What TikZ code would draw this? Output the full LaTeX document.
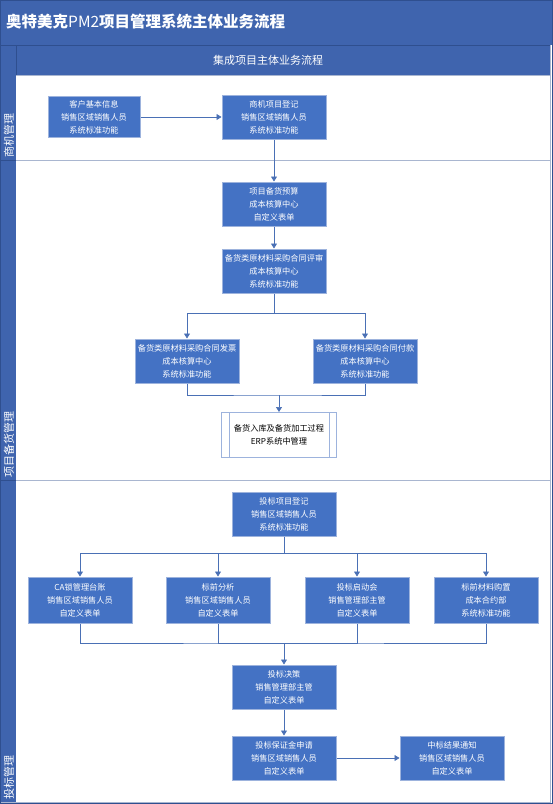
\documentclass[tikz,border=0pt]{standalone}
\usepackage{fontspec}
\setmainfont{Noto Sans CJK SC}
\usetikzlibrary{arrows.meta}
\definecolor{barblue}{HTML}{3F64AE}
\definecolor{barline}{HTML}{2F4F8F}
\definecolor{boxblue}{HTML}{4472C4}
\definecolor{boxedge}{HTML}{9DB3DD}
\definecolor{flowline}{HTML}{4A70B5}
\definecolor{laneline}{HTML}{A9B6D0}

\begin{document}
\begin{tikzpicture}[x=1pt,y=-1pt,
    task/.style={draw=boxedge,line width=1pt,fill=boxblue,text=white,
        minimum width=104pt,minimum height=44pt,inner sep=0pt,align=center,
        font=\fontsize{8.2}{13}\selectfont},
    erpbox/.style={task,fill=white,text=black,minimum width=115pt,minimum height=45pt},
    lanelabel/.style={rotate=90,anchor=west,text=white,inner sep=0pt,
        font=\fontsize{11}{11}\selectfont},
    flow/.style={draw=flowline,line width=0.7pt},
    arr/.style={flow,-{Triangle[width=6pt,length=5pt]}}]
    \useasboundingbox (0,0) rectangle (553,804);

    \fill[barblue] (0,0) rectangle (553,45);
    \fill[barblue] (0,45) rectangle (16,803);
    \fill[barblue] (16,45) rectangle (550,75);
    \draw[barline] (0,45) -- (550,45);
    \draw[barline] (16,45) -- (16,75);
    \draw[barline] (0,160) -- (16,160);
    \draw[barline] (0,480) -- (16,480);
    \draw[laneline] (16,75) -- (550,75);
    \draw[laneline] (16,160) -- (550,160);
    \draw[laneline] (16,480) -- (550,480);
    \draw[laneline] (550,45) -- (550,802) -- (0,802);
    \draw[barline] (0.5,0.5) rectangle (552.5,803.5);

    \node[text=white,anchor=west,inner sep=0pt,font=\fontsize{15.5}{15.5}\bfseries] (title) at (6,22) {奥特美克{\mdseries PM2}项目管理系统主体业务流程};
    \node[text=white,inner sep=0pt,font=\fontsize{11}{11}\selectfont] (header) at (268,60) {集成项目主体业务流程};
    \node[lanelabel] (lane1) at (9,158) {商机管理};
    \node[lanelabel] (lane2) at (9,478) {项目备货管理};
    \node[lanelabel] (lane3) at (9,800) {投标管理};

    \node[task,minimum width=92pt,minimum height=41pt] (kehu) at (94,117) {客户基本信息\\销售区域销售人员\\系统标准功能};
    \node[task] (shangji) at (274,117) {商机项目登记\\销售区域销售人员\\系统标准功能};

    \node[task] (yusuan) at (274,204) {项目备货预算\\成本核算中心\\自定义表单};
    \node[task] (pingshen) at (274,271) {备货类原材料采购合同评审\\成本核算中心\\系统标准功能};
    \node[task] (fapiao) at (187,361) {备货类原材料采购合同发票\\成本核算中心\\系统标准功能};
    \node[task] (fukuan) at (365,361) {备货类原材料采购合同付款\\成本核算中心\\系统标准功能};
    \node[erpbox] (erp) at (279,435) {备货入库及备货加工过程\\ERP系统中管理};
    \draw[boxedge,line width=1pt] ([xshift=8pt]erp.north west) -- ([xshift=8pt]erp.south west);
    \draw[boxedge,line width=1pt] ([xshift=-8pt]erp.north east) -- ([xshift=-8pt]erp.south east);

    \node[task] (toubiao) at (284,514) {投标项目登记\\销售区域销售人员\\系统标准功能};
    \node[task,minimum height=46pt] (ca) at (80,600) {CA锁管理台账\\销售区域销售人员\\自定义表单};
    \node[task,minimum height=46pt] (biaoqian) at (218,600) {标前分析\\销售区域销售人员\\自定义表单};
    \node[task,minimum height=46pt] (qidong) at (357,600) {投标启动会\\销售管理部主管\\自定义表单};
    \node[task,minimum height=46pt] (cailiao) at (486,600) {标前材料购置\\成本合约部\\系统标准功能};
    \node[task] (juece) at (284,687) {投标决策\\销售管理部主管\\自定义表单};
    \node[task] (baozheng) at (284,758) {投标保证金申请\\销售区域销售人员\\自定义表单};
    \node[task] (zhongbiao) at (452,758) {中标结果通知\\销售区域销售人员\\自定义表单};

    \coordinate (fen1) at (274,313);
    \coordinate (he1) at (279,395);
    \coordinate (fen2) at (284,553);
    \coordinate (he2) at (284,643);

    \draw[arr] (kehu) -- (shangji);
    \draw[arr] (shangji) -- (yusuan);
    \draw[arr] (yusuan) -- (pingshen);
    \draw[flow] (pingshen) -- (fen1);
    \draw[arr] (fen1) -| (fapiao);
    \draw[arr] (fen1) -| (fukuan);
    \draw[flow] (fapiao) |- (he1) -| (fukuan);
    \draw[arr] (he1) -- (erp);

    \draw[flow] (toubiao) -- (fen2);
    \draw[arr] (fen2) -| (ca);
    \draw[arr] (fen2) -| (biaoqian);
    \draw[arr] (fen2) -| (qidong);
    \draw[arr] (fen2) -| (cailiao);
    \draw[flow] (ca) |- (he2) -| (cailiao);
    \draw[flow] (biaoqian) |- (he2);
    \draw[flow] (qidong) |- (he2);
    \draw[arr] (he2) -- (juece);
    \draw[arr] (juece) -- (baozheng);
    \draw[arr] (baozheng) -- (zhongbiao);
\end{tikzpicture}
\end{document}
